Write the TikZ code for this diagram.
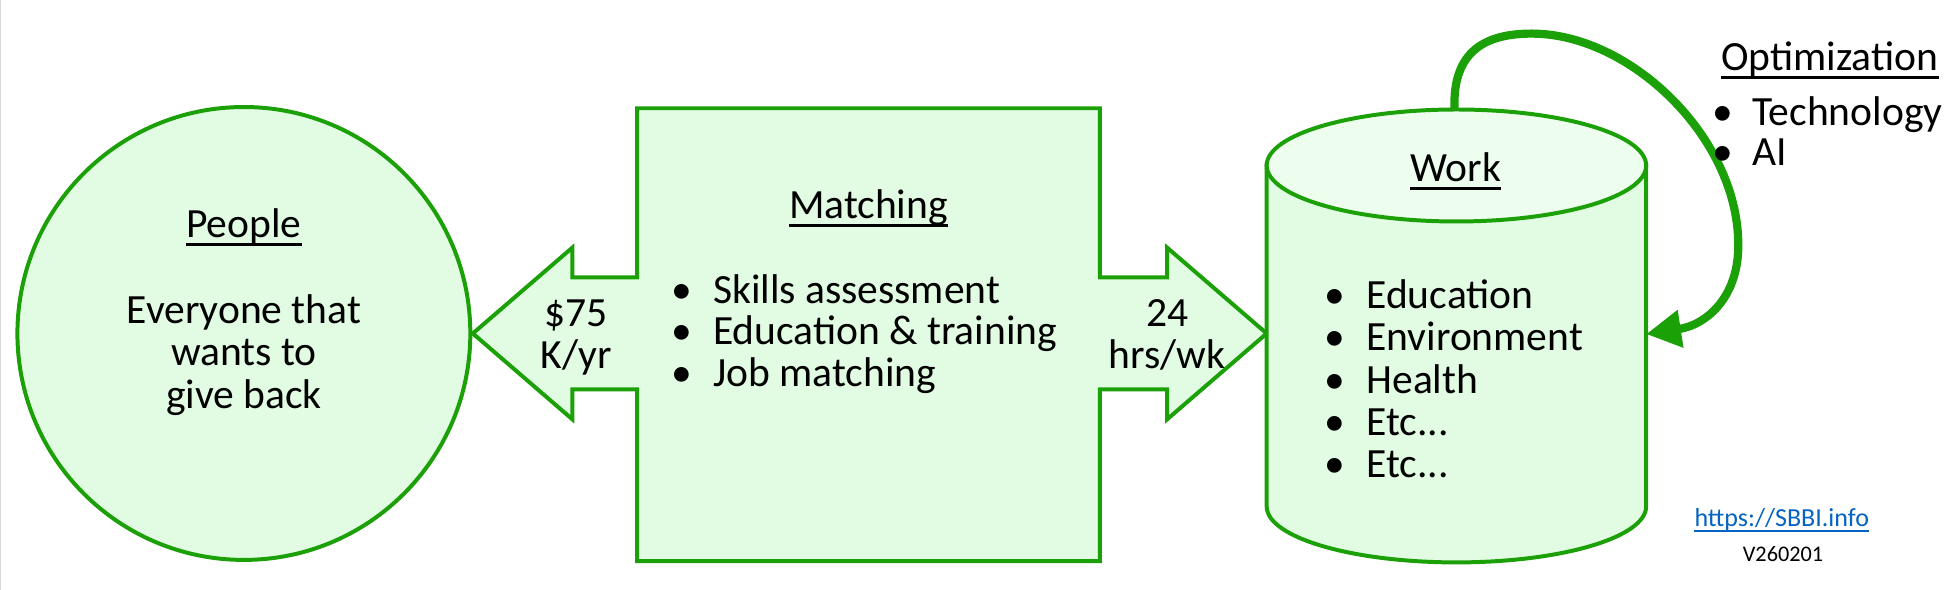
\documentclass[tikz,border=0pt]{standalone}
\usepackage{fontspec}
\setmainfont{Carlito}
\usetikzlibrary{arrows.meta}
\definecolor{gstroke}{RGB}{28,160,8}
\definecolor{gfill}{RGB}{225,252,227}
\definecolor{gtop}{RGB}{237,254,239}
\definecolor{linkblue}{RGB}{5,99,193}
\begin{document}
\begin{tikzpicture}[x=1pt,y=-1pt,
  shapeline/.style={draw=gstroke, line width=3.2pt, line join=miter, fill=gfill},
  txt/.style={inner sep=0pt, font=\fontsize{33.4}{34}\selectfont, text=black},
  smalltxt/.style={inner sep=0pt, font=\fontsize{20.9}{22}\selectfont, text=linkblue},
  vertxt/.style={inner sep=0pt, font=\fontsize{17.9}{19}\selectfont, text=black},
  uline/.style={line width=2.2pt, black},
  loopline/.style={draw=gstroke, line width=6.6pt, -{Triangle[length=28pt,width=29pt]}},
]
\useasboundingbox (0,0) rectangle (1568,474);
\fill[white] (0,0) rectangle (1568,474);
\draw[black!15, line width=1pt] (0.5,0) -- (0.5,474);

% People circle
\node[shapeline, circle, minimum size=364pt, inner sep=0pt] (people) at (196,268) {};
\node[txt, anchor=base] (peopleT) at (196,191) {People};
\draw[uline] ([yshift=-5.5pt]peopleT.base west) -- ([yshift=-5.5pt]peopleT.base east);
\node[txt, anchor=base] (p1) at (196,260) {Everyone that};
\node[txt, anchor=base] (p2) at (196,294) {wants to};
\node[txt, anchor=base] (p3) at (196,328) {give back};

% Matching box with double arrow
\draw[shapeline] (512,87) -- (884,87) -- (884,223) -- (938,223) -- (938,199) -- (1018,268)
  -- (938,337) -- (938,313) -- (884,313) -- (884,451) -- (512,451) -- (512,313)
  -- (460,313) -- (460,337) -- (380,268) -- (460,199) -- (460,223) -- (512,223) -- cycle;
\node[txt, anchor=base] (matchT) at (698,176) {Matching};
\draw[uline] ([yshift=-5.5pt]matchT.base west) -- ([yshift=-5.5pt]matchT.base east);
\node[txt, anchor=base] (mb1) at (548,244) {\textbullet};
\node[txt, anchor=base west] (m1) at (573,244) {Skills assessment};
\node[txt, anchor=base] (mb2) at (548,277) {\textbullet};
\node[txt, anchor=base west] (m2) at (573,277) {Education \& training};
\node[txt, anchor=base] (mb3) at (548,311) {\textbullet};
\node[txt, anchor=base west] (m3) at (573,311) {Job matching};

\node[txt, anchor=base] (pay1) at (463,262) {\$75};
\node[txt, anchor=base] (pay2) at (463,296) {K/yr};
\node[txt, anchor=base] (hrs1) at (938,262) {24};
\node[txt, anchor=base] (hrs2) at (938,296) {hrs/wk};

% Work cylinder
\filldraw[shapeline] (1018,133) -- (1018,407)
  arc[start angle=180, end angle=0, x radius=152.5, y radius=45] -- (1323,133) -- cycle;
\filldraw[shapeline, fill=gtop] (1170.5,133) ellipse[x radius=152.5, y radius=45];
\coordinate (worktop) at (1169,88);
\coordinate (workside) at (1323,268.5);
\node[txt, anchor=base] (workT) at (1170,146) {Work};
\draw[uline] ([yshift=-5.3pt]workT.base west) -- ([yshift=-5.3pt]workT.base east);
\node[txt, anchor=base] (wb1) at (1073,248) {\textbullet};
\node[txt, anchor=base west] (w1) at (1098,248) {Education};
\node[txt, anchor=base] (wb2) at (1073,282) {\textbullet};
\node[txt, anchor=base west] (w2) at (1098,282) {Environment};
\node[txt, anchor=base] (wb3) at (1073,316) {\textbullet};
\node[txt, anchor=base west] (w3) at (1098,316) {Health};
\node[txt, anchor=base] (wb4) at (1073,350) {\textbullet};
\node[txt, anchor=base west] (w4) at (1098,350) {Etc...};
\node[txt, anchor=base] (wb5) at (1073,384) {\textbullet};
\node[txt, anchor=base west] (w5) at (1098,384) {Etc...};

% Optimization loop
\coordinate (lpA) at (1231,27);
\coordinate (lpB) at (1397,195);
\draw[loopline] (worktop) .. controls (1167,40) and (1195,27) .. (lpA)
  .. controls (1310,27) and (1396,110) .. (lpB)
  .. controls (1398,238) and (1372,261) .. (workside);

\node[txt, anchor=base west] (optT) at (1383,57) {Optimization};
\draw[uline] ([yshift=-5.5pt]optT.base west) -- ([yshift=-5.5pt]optT.base east);
\node[txt, anchor=base] (ob1) at (1385,101) {\textbullet};
\node[txt, anchor=base west] (o1) at (1408,101) {Technology};
\node[txt, anchor=base] (ob2) at (1385,133) {\textbullet};
\node[txt, anchor=base west] (o2) at (1408,133) {AI};

% footer
\node[smalltxt, anchor=base] (link) at (1432,423) {https://SBBI.info};
\draw[linkblue, line width=1.3pt] ([yshift=-3.6pt]link.base west) -- ([yshift=-3.6pt]link.base east);
\node[vertxt, anchor=base] (ver) at (1433,451) {V260201};
\end{tikzpicture}
\end{document}
